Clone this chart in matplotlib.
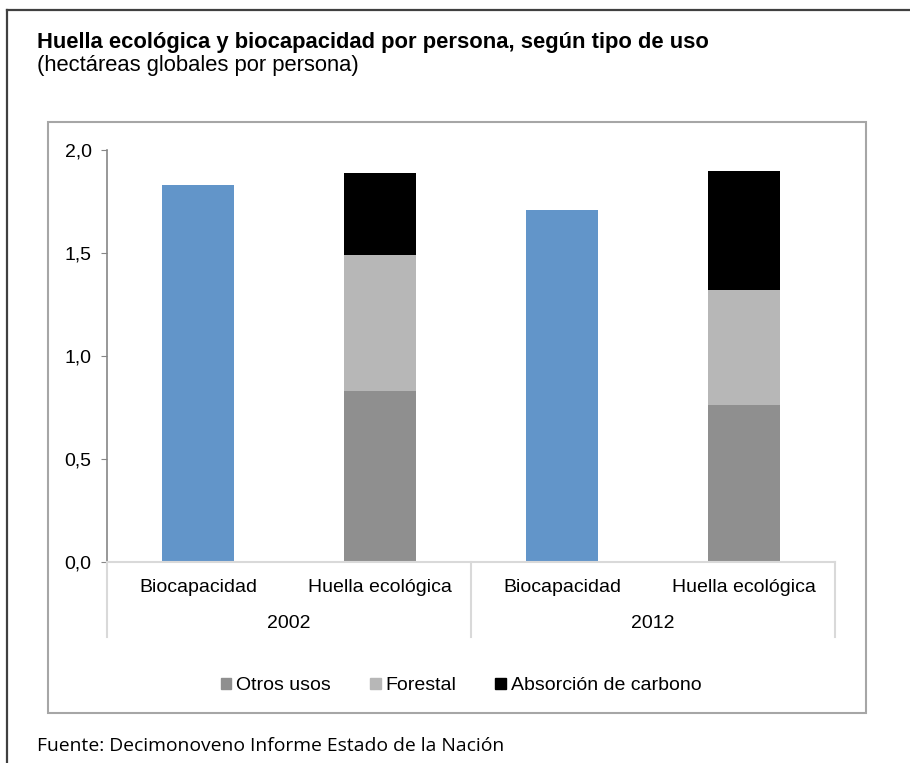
import matplotlib
matplotlib.use('Agg')
import matplotlib.pyplot as plt
from matplotlib.patches import Rectangle, Patch
from matplotlib.lines import Line2D
import matplotlib.transforms as mtransforms
import numpy as np

# data
years = ['2002', '2012']
categories = ['Biocapacidad', 'Huella ecológica', 'Biocapacidad', 'Huella ecológica']
biocapacidad = [1.83, 1.71]
otros_usos = [0.83, 0.76]
forestal = [0.66, 0.56]
absorcion_carbono = [0.40, 0.58]
y_ticks = [0.0, 0.5, 1.0, 1.5, 2.0]
y_tick_labels = ['0,0', '0,5', '1,0', '1,5', '2,0']
series_names = ['Otros usos', 'Forestal', 'Absorción de carbono']

BLUE = '#6295c9'
C_OTROS = '#8f8f8f'
C_FOREST = '#b7b7b7'
C_CARBON = '#000000'

plt.rcParams['font.family'] = ['Liberation Sans', 'DejaVu Sans']

W, H = 910, 763
fig = plt.figure(figsize=(W / 100, H / 100), dpi=100)


def fx(px):
    return px / W


def fy(py):
    return 1 - py / H


# outer frame (top and left edge only)
fig.add_artist(Line2D([fx(7), 1.0], [fy(10), fy(10)], color='#404040', lw=1.6))
fig.add_artist(Line2D([fx(7), fx(7)], [fy(10), 0.0], color='#404040', lw=1.6))

# chart box
fig.add_artist(Rectangle((fx(48), fy(713)), fx(866) - fx(48), fy(122) - fy(713),
                         fill=False, edgecolor='#a6a6a6', lw=1.5))

ax = fig.add_axes([fx(107), fy(562), fx(835) - fx(107), fy(150) - fy(562)])

x_bio = np.array([0, 2])
x_hue = np.array([1, 3])
width = 0.4

ax.bar(x_bio, biocapacidad, width, color=BLUE)
ax.bar(x_hue, otros_usos, width, color=C_OTROS, label=series_names[0])
ax.bar(x_hue, forestal, width, bottom=otros_usos, color=C_FOREST,
       label=series_names[1])
ax.bar(x_hue, absorcion_carbono, width,
       bottom=np.array(otros_usos) + np.array(forestal),
       color=C_CARBON, label=series_names[2])

ax.set_xlim(-0.5, 3.5)
ax.set_ylim(0, 2.0)
ax.set_yticks(y_ticks)
ax.set_yticklabels(y_tick_labels)
ax.set_xticks(range(len(categories)))
ax.set_xticklabels(categories)
ax.tick_params(axis='y', length=4, color='#868686', pad=7, labelsize=14)
ax.tick_params(axis='x', length=0, pad=12, labelsize=14)

for s in ['top', 'right']:
    ax.spines[s].set_visible(False)
ax.spines['left'].set_color('#868686')
ax.spines['bottom'].set_color('#d9d9d9')
ax.spines['left'].set_linewidth(1.2)
ax.spines['bottom'].set_linewidth(1.5)

# group separators and year labels below the axis
trans = mtransforms.blended_transform_factory(ax.transData, ax.transAxes)
for xs in [-0.5, 1.5, 3.5]:
    ax.plot([xs, xs], [0, -75 / 412], color='#d9d9d9', lw=1.5,
            transform=trans, clip_on=False)
for i, yr in enumerate(years):
    ax.text(2 * i + 0.5, -62 / 412, yr, transform=trans, ha='center',
            va='center', fontsize=14)

# legend
handles = [Patch(color=C_OTROS), Patch(color=C_FOREST), Patch(color=C_CARBON)]
fig.legend(handles, series_names, loc='center', bbox_to_anchor=(fx(461), fy(686)),
           ncol=3, frameon=False, fontsize=14, handlelength=0.55,
           handleheight=0.55, handletextpad=0.25, columnspacing=2.0)

# titles
fig.text(fx(37), fy(48), 'Huella ecológica y biocapacidad por persona, según tipo de uso',
         fontsize=15.8, fontweight='bold', va='baseline')
fig.text(fx(37), fy(71), '(hectáreas globales por persona)', fontsize=15.8,
         va='baseline')
fig.text(fx(37), fy(751), 'Fuente: Decimonoveno Informe Estado de la Nación',
         fontsize=13.9, family=['Open Sans', 'DejaVu Sans'], va='baseline')

fig.savefig('out.png', dpi=100)
plt.close(fig)
